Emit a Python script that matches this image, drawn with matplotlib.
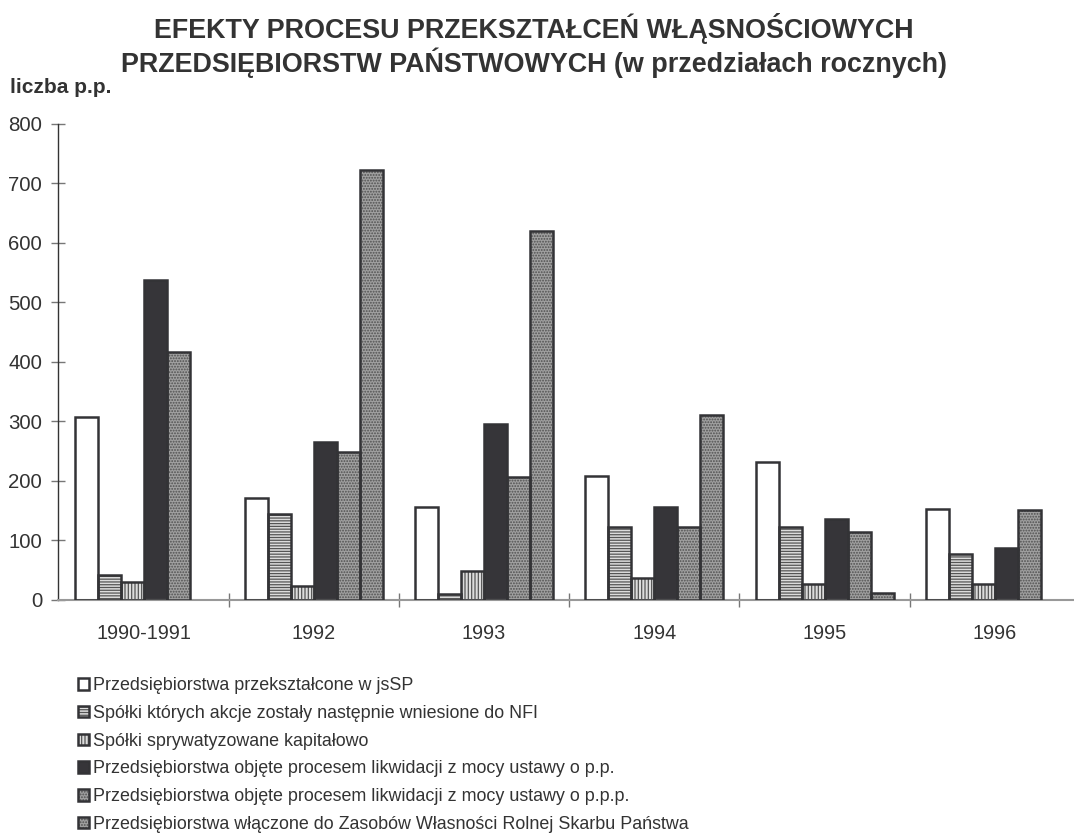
import numpy as np
import matplotlib
matplotlib.use("Agg")
import matplotlib.pyplot as plt
from matplotlib.ticker import FixedLocator

plt.rcParams['font.family'] = ['Liberation Sans', 'DejaVu Sans']
plt.rcParams['hatch.linewidth'] = 0.9

categories = ["1990-1991", "1992", "1993", "1994", "1995", "1996"]
series_names = [
    "Przedsiębiorstwa przekształcone w jsSP",
    "Spółki których akcje zostały następnie wniesione do NFI",
    "Spółki sprywatyzowane kapitałowo",
    "Przedsiębiorstwa objęte procesem likwidacji z mocy ustawy o p.p.",
    "Przedsiębiorstwa objęte procesem likwidacji z mocy ustawy o p.p.p.",
    "Przedsiębiorstwa włączone do Zasobów Własności Rolnej Skarbu Państwa",
]
jssp = [308, 172, 156, 209, 231, 152]
nfi = [42, 144, 10, 123, 123, 78]
kapitalowo = [31, 23, 48, 37, 27, 26]
likw_pp = [537, 265, 296, 157, 136, 87]
likw_ppp = [417, 248, 206, 122, 114, 151]
zasoby = [0, 723, 620, 310, 11, 0]
yticks = [0, 100, 200, 300, 400, 500, 600, 700, 800]

series = [jssp, nfi, kapitalowo, likw_pp, likw_ppp, zasoby]
styles = [
    dict(face="white", hatch=None, hcolor="white"),
    dict(face="#dcdcdc", hatch="------", hcolor="#555555"),
    dict(face="#dcdcdc", hatch="|||||", hcolor="#555555"),
    dict(face="#363539", hatch=None, hcolor="#363539"),
    dict(face="#a0a0a0", hatch="......", hcolor="#505050"),
    dict(face="#a0a0a0", hatch="......", hcolor="#505050"),
]
TXT = "#333333"
EDGE = "#333336"

fig = plt.figure(figsize=(10.74, 8.34), dpi=100)
ax = fig.add_axes([0.0544, 0.2806, 0.9512, 0.5711])

x = np.arange(len(categories))
w = 0.135
handles = []
for i, (vals, st) in enumerate(zip(series, styles)):
    v = np.array(vals, dtype=float)
    v = np.where(v > 0, v, np.nan)
    pos = x + (i - 2.5) * w
    b1 = ax.bar(pos, v, w, color=st["face"], hatch=st["hatch"],
                edgecolor=st["hcolor"], linewidth=0, zorder=2)
    b2 = ax.bar(pos, v, w, fill=False, edgecolor=EDGE, linewidth=1.8, zorder=3)
    handles.append((b1.patches[0], b2.patches[0]))

ax.set_xlim(-0.5, 5.5)
ax.set_ylim(0, 800)
ax.set_yticks(yticks)
ax.set_xticks(x)
ax.set_xticklabels(categories)
ax.xaxis.set_minor_locator(FixedLocator(np.arange(0.5, 5.5, 1.0)))
for s in ["top", "right"]:
    ax.spines[s].set_visible(False)
ax.spines["left"].set_color("#333333")
ax.spines["left"].set_linewidth(1.0)
ax.spines["bottom"].set_color("#999999")
ax.spines["bottom"].set_linewidth(1.5)
ax.tick_params(axis="y", direction="inout", length=9.4, width=1.0, color="#777777",
               labelsize=14.7, labelcolor=TXT, pad=7)
ax.tick_params(axis="x", which="major", length=0, labelsize=14.3, labelcolor=TXT, pad=17)
ax.tick_params(axis="x", which="minor", direction="inout", length=9.4, width=1.0, color="#777777")

fig.text(0.497, 0.985, "EFEKTY PROCESU PRZEKSZTAŁCEŃ WŁĄSNOŚCIOWYCH\nPRZEDSIĘBIORSTW PAŃSTWOWYCH (w przedziałach rocznych)",
         ha="center", va="top", fontsize=19.4, fontweight="bold", color=TXT, linespacing=1.15)
fig.text(0.0093, 0.888, "liczba p.p.", ha="left", va="baseline", fontsize=15, fontweight="bold", color=TXT)

leg = fig.legend(handles, series_names, loc="upper left", bbox_to_anchor=(0.0726, 0.188),
                 frameon=False, fontsize=12.9, handlelength=0.6, handleheight=0.6,
                 handletextpad=0.22, labelspacing=0.6, borderpad=0, borderaxespad=0)
for t in leg.get_texts():
    t.set_color(TXT)

fig.savefig("out.png", dpi=100)
